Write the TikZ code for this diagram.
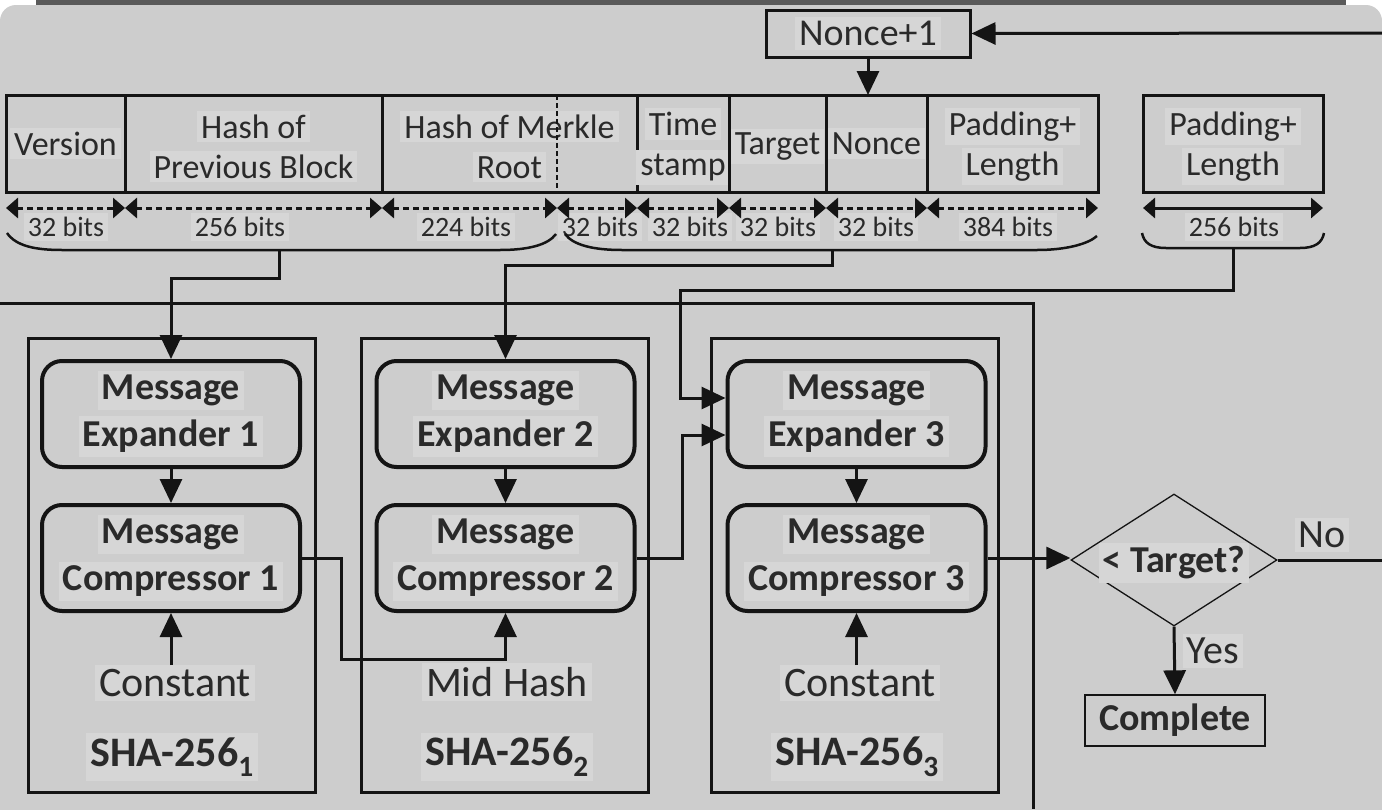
\documentclass[tikz,border=0pt]{standalone}
\usepackage{fontspec}
\setmainfont{Carlito}
\usetikzlibrary{arrows.meta,shapes.geometric,calc}
\definecolor{bg}{HTML}{CDCDCD}
\definecolor{hlg}{HTML}{D6D6D6}
\definecolor{ink}{HTML}{141414}
\definecolor{txt}{HTML}{2A2A2A}
\definecolor{band}{HTML}{5A5A5A}
\newcommand{\hlt}[1]{{\setlength{\fboxsep}{4pt}\colorbox{hlg}{#1}}}
\begin{document}
\begin{tikzpicture}[x=1pt,y=-1pt,
  line/.style={draw=ink,line width=3pt},
  arr/.style={line,-{Triangle[length=24pt,width=22pt]}},
  dimarr/.style={draw=ink,line width=3pt,dash pattern=on 6pt off 4pt,
     {Triangle[length=12pt,width=20pt]}-{Triangle[length=12pt,width=20pt]}},
  solidim/.style={draw=ink,line width=3pt,
     {Triangle[length=12pt,width=20pt]}-{Triangle[length=12pt,width=20pt]}},
  cell/.style={draw=ink,line width=3pt,minimum height=97pt,inner sep=0pt,outer sep=0pt},
  hdr/.style={text=txt,align=center,font=\fontsize{34}{40}\selectfont,inner sep=0pt},
  hdrlow/.style={hdr,yshift=-3pt},
  bits/.style={text=txt,font=\fontsize{28}{34}\selectfont,inner sep=0pt},
  shabox/.style={draw=ink,line width=3pt,minimum width=287pt,minimum height=454pt,inner sep=0pt},
  rbox/.style={draw=ink,line width=4pt,rounded corners=20pt,minimum width=258pt,minimum height=106pt,
     inner sep=0pt,align=center,text=txt,font=\bfseries\fontsize{38}{47}\selectfont},
  big/.style={text=txt,font=\fontsize{42}{50}\selectfont,inner sep=0pt},
  shalbl/.style={text=txt,font=\bfseries\fontsize{42}{50}\selectfont,inner sep=0pt},
]
\useasboundingbox (0,0) rectangle (1382,809);
\clip (0,0) rectangle (1382,809);
% background
\fill[white] (0,0) rectangle (1382,809);
\fill[band] (36,0) rectangle (1346,6);
\fill[bg,rounded corners=16pt] (0,5) rectangle (1382,860);

% Nonce+1
\node[draw=ink,line width=3pt,minimum width=204pt,minimum height=47pt,inner sep=0pt,
      text=txt,font=\fontsize{38}{44}\selectfont] (n1) at (868,33.5) {\hlt{Nonce+1}};

% header cells
\node[cell,minimum width=119pt,label={[hdr]center:\hlt{Version}}] (ver) at (65.5,143.5) {};
\node[cell,minimum width=257pt,label={[hdrlow]center:\hlt{Hash of}\\\hlt{Previous Block}}] (prev) at (253.5,143.5) {};
\node[cell,minimum width=255pt,label={[hdrlow]center:\hlt{Hash of Merkle}\\\hlt{Root}}] (merk) at (509.5,143.5) {};
\node[cell,minimum width=92pt,label={[hdrlow]center:\hlt{Time}\\\hlt{stamp}}] (time) at (683,143.5) {};
\node[cell,minimum width=97pt,label={[hdrlow]center:\hlt{Target}}] (targ) at (777.5,143.5) {};
\node[cell,minimum width=101pt,label={[hdr]center:\hlt{Nonce}}] (nonc) at (876.5,143.5) {};
\node[cell,minimum width=171pt,label={[hdrlow]center:\hlt{Padding+}\\\hlt{Length}}] (pad) at (1012.5,143.5) {};
\node[cell,minimum width=180pt,label={[hdrlow]center:\hlt{Padding+}\\\hlt{Length}}] (pad2) at (1233,143.5) {};
\coordinate (ms) at (557,95);
\coordinate (mb) at (557,192);
\draw[draw=ink,line width=1.2pt,dash pattern=on 5pt off 3pt] (ms) -- (mb);

% bit labels
\node[bits] (d1) at (66,227) {\hlt{32 bits}};
\node[bits] (d2) at (240,227) {\hlt{256 bits}};
\node[bits] (d3) at (466,227) {\hlt{224 bits}};
\node[bits] (d4) at (600,227) {\hlt{32 bits}};
\node[bits] (d5) at (690,227) {\hlt{32 bits}};
\node[bits] (d6) at (778,227) {\hlt{32 bits}};
\node[bits] (d7) at (876,227) {\hlt{32 bits}};
\node[bits] (d8) at (1008,227) {\hlt{384 bits}};
\node[bits] (d9) at (1234,227) {\hlt{256 bits}};

% dimension arrows
\draw[dimarr] ([yshift=-16pt]ver.south west) -- ([yshift=-16pt]ver.south east);
\draw[dimarr] ([yshift=-16pt]prev.south west) -- ([yshift=-16pt]prev.south east);
\draw[dimarr] ([yshift=-16pt]merk.south west) -- ([yshift=-16pt]mb);
\draw[dimarr] ([yshift=-16pt]mb) -- ([yshift=-16pt]merk.south east);
\draw[dimarr] ([yshift=-16pt]time.south west) -- ([yshift=-16pt]time.south east);
\draw[dimarr] ([yshift=-16pt]targ.south west) -- ([yshift=-16pt]targ.south east);
\draw[dimarr] ([yshift=-16pt]nonc.south west) -- ([yshift=-16pt]nonc.south east);
\draw[dimarr] ([yshift=-16pt]pad.south west) -- ([yshift=-16pt]pad.south east);
\draw[solidim] ([yshift=-16pt]pad2.south west) -- ([yshift=-16pt]pad2.south east);

% braces
\draw[line,line width=2.5pt] (7,233) .. controls (16,246) and (35,250) .. (62,250) -- (500,250)
   .. controls (528,250) and (548,245) .. (556,234);
\draw[line,line width=2.5pt] (565,234) .. controls (573,245) and (593,250) .. (622,250) -- (1037,250)
   .. controls (1066,250) and (1088,244) .. (1097,236);
\draw[line,line width=2.5pt] (1142,233) .. controls (1144,243) and (1151,248) .. (1166,248) -- (1300,248)
   .. controls (1315,248) and (1322,243) .. (1324,233);
\coordinate (b1) at (279,250);
\coordinate (b2) at (832,250);
\coordinate (b3) at (1233,248);

% SHA boxes
\node[shabox] (sha1) at (171.5,565) {};
\node[shabox] (sha2) at (505,565) {};
\node[shabox] (sha3) at (854.5,565) {};

\node[rbox] (e1) at (171,414) {\hlt{Message}\\\hlt{Expander 1}};
\node[rbox] (c1) at (171,558) {\hlt{Message}\\\hlt{Compressor 1}};
\node[rbox] (e2) at (505.5,414) {\hlt{Message}\\\hlt{Expander 2}};
\node[rbox] (c2) at (505.5,558) {\hlt{Message}\\\hlt{Compressor 2}};
\node[rbox] (e3) at (856.5,414) {\hlt{Message}\\\hlt{Expander 3}};
\node[rbox] (c3) at (856.5,558) {\hlt{Message}\\\hlt{Compressor 3}};

\node[big] (k1) at (175,683) {\hlt{Constant}};
\node[big] (mh) at (507,682) {\hlt{Mid Hash}};
\node[big] (k3) at (860,683) {\hlt{Constant}};

\node[shalbl] (s1) at (172,757) {\hlt{SHA-256\textsubscript{1}}};
\node[shalbl] (s2) at (507,757) {\hlt{SHA-256\textsubscript{2}}};
\node[shalbl] (s3) at (857,757) {\hlt{SHA-256\textsubscript{3}}};

% decision
\node[draw=ink,line width=1.3pt,shape=diamond,aspect=1.56,minimum width=206pt,minimum height=132pt,
      inner sep=0pt,label={[text=txt,font=\bfseries\fontsize{38}{46}\selectfont,inner sep=0pt,yshift=-3pt]center:\hlt{< Target?}}] (tg) at (1174,560) {};
\node[draw=ink,line width=1.3pt,minimum width=180pt,minimum height=51pt,inner sep=0pt,
      text=txt,font=\bfseries\fontsize{38}{46}\selectfont] (done) at (1175,720.5) {Complete};
\node[text=txt,font=\fontsize{40}{48}\selectfont,inner sep=0pt] (no) at (1322,535) {\hlt{No}};
\node[text=txt,font=\fontsize{40}{48}\selectfont,inner sep=0pt] (yes) at (1213,651) {\hlt{Yes}};
\coordinate (noend) at (1382,560);
\coordinate (nin) at (1382,33);

% long line
\coordinate (l0) at (0,303);
\coordinate (l1) at (1033,303);
\coordinate (l2) at (1033,809);
\draw[line] (l0) -- (l1) -- (l2);

% connectors
\draw[arr] (nin) -- (n1.east);
\draw[arr] (n1.south) -- (n1.south |- nonc.north);
\draw[arr] (b1) -- ++(0,28) -| (e1.north);
\draw[arr] (b2) -- ++(0,15) -| (e2.north);
\draw[arr] (b3) -- ++(0,42) -| ([xshift=-45pt,yshift=16pt]e3.west) -- ([yshift=16pt]e3.west);
\draw[arr] (c2.east) -- ++(46,0) |- ([yshift=-21pt]e3.west);
\draw[arr] (c1.east) -- ++(39,0) |- ($(c2.south)+(0,46)$) -- (c2.south);
\draw[arr] (e1) -- (c1);
\draw[arr] (e2) -- (c2);
\draw[arr] (e3) -- (c3);
\draw[arr] (c1.south |- k1.north) -- (c1.south);
\draw[arr] (c3.south |- k3.north) -- (c3.south);
\draw[arr] (c3.east) -- (c3.east -| tg.west);
\draw[line] (tg.east) -- (noend);
\draw[arr] (tg.south) -- (done.north);
\end{tikzpicture}
\end{document}
